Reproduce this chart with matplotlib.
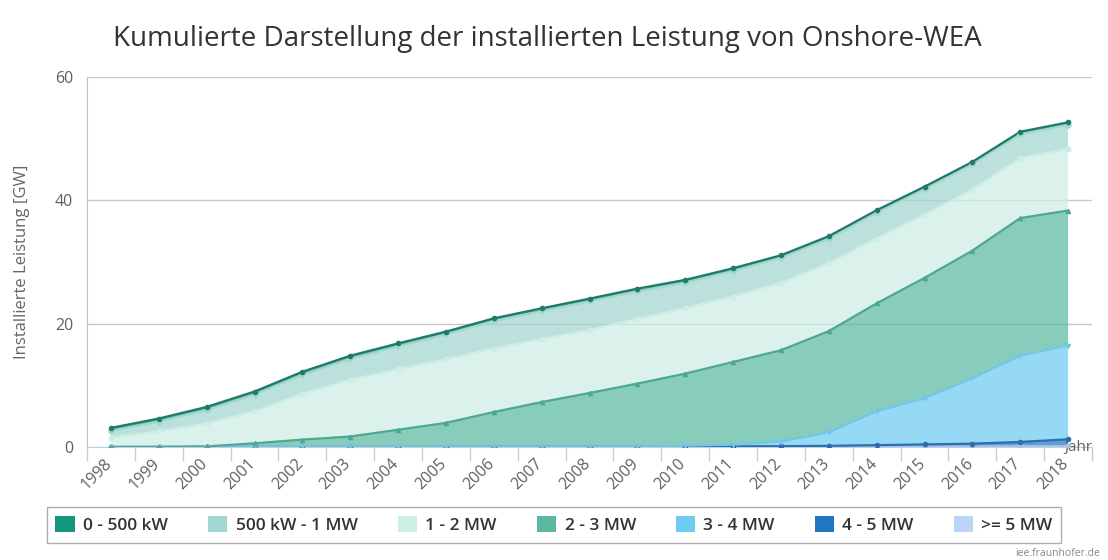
"""
Kumulierte installierte Leistung von Onshore-WEA nach Leistungsklasse
"""

import numpy as np
import matplotlib.pyplot as plt
from matplotlib.patches import Patch

plt.rcParams['font.family'] = ['Open Sans', 'DejaVu Sans']

years = [str(y) for y in range(1998, 2019)]

# installierte Leistung je Klasse [GW]
kw0_500 = [0.5, 0.5, 0.5, 0.5, 0.5, 0.5, 0.5, 0.45, 0.45, 0.45, 0.45, 0.45, 0.45, 0.45,
           0.4, 0.4, 0.4, 0.4, 0.4, 0.4, 0.4]
kw500_1mw = [1.1, 1.6, 2.2, 2.7, 3.1, 3.4, 3.7, 4.05, 4.45, 4.55, 4.65, 4.45, 4.15, 4.15,
             4.1, 4.0, 4.2, 4.2, 4.1, 3.9, 3.9]
mw1_2 = [1.5, 2.5, 3.7, 5.2, 7.4, 9.2, 9.8, 10.3, 10.3, 10.2, 10.2, 10.5, 10.6, 10.6,
         10.9, 11.0, 10.5, 10.2, 9.9, 9.7, 10.0]
mw2_3 = [0.0, 0.02, 0.1, 0.6, 1.2, 1.7, 2.8, 3.9, 5.65, 7.25, 8.7, 10.2, 11.7, 13.4,
         14.8, 16.4, 17.5, 19.5, 20.7, 22.3, 21.9]
mw3_4 = [0.0, 0.0, 0.0, 0.0, 0.0, 0.0, 0.0, 0.0, 0.0, 0.01, 0.02, 0.03, 0.13, 0.29,
         0.76, 2.2, 5.5, 7.5, 10.6, 14.0, 15.2]
mw4_5 = [0.0, 0.0, 0.0, 0.0, 0.0, 0.0, 0.0, 0.01, 0.02, 0.03, 0.04, 0.05, 0.06, 0.08,
         0.1, 0.15, 0.25, 0.35, 0.45, 0.7, 1.1]
mw5_plus = [0.0, 0.0, 0.0, 0.0, 0.0, 0.0, 0.0, 0.0, 0.0, 0.0, 0.0, 0.0, 0.01, 0.02,
            0.03, 0.04, 0.05, 0.07, 0.09, 0.12, 0.15]

labels = ['0 - 500 kW', '500 kW - 1 MW', '1 - 2 MW', '2 - 3 MW',
          '3 - 4 MW', '4 - 5 MW', '>= 5 MW']
colors = ['#13977c', '#a3d6cf', '#cdeee5', '#5ab9a2', '#6ecbf0', '#2277c4', '#bcd4f5']
line_colors = ['#1f7a68', '#a3d6cf', '#cdeee5', '#4fa793', '#72c6e8', '#2a6fae', '#a9c3e6']
markers = ['o', 'D', 's', '^', 'v', 'o', 's']

series = [kw0_500, kw500_1mw, mw1_2, mw2_3, mw3_4, mw4_5, mw5_plus]

fig = plt.figure(figsize=(11.08, 5.6), dpi=100)
ax = fig.add_axes([87 / 1108, 113 / 560, (1092 - 87) / 1108, 370 / 560])

x = np.arange(len(years))

# stapeln von unten (>= 5 MW) nach oben (0 - 500 kW)
stack = np.array(series[::-1])
tops = np.cumsum(stack, axis=0)
ax.stackplot(x, stack, colors=colors[::-1], alpha=0.72, linewidth=0)

for i, top in enumerate(tops):
    k = len(series) - 1 - i
    ax.plot(x, top, color=line_colors[k], linewidth=1.6, zorder=3)
    ax.plot(x, top, linestyle='none', marker=markers[k], markersize=3,
            markerfacecolor=line_colors[k], markeredgecolor=line_colors[k], zorder=4)

ax.set_xlim(-0.5, len(years) - 0.5)
ax.set_ylim(0, 60)
ax.set_yticks([0, 20, 40, 60])
ax.grid(axis='y', color='#c8c8c8', linewidth=1)
ax.set_axisbelow(True)

for side in ['top', 'right']:
    ax.spines[side].set_visible(False)
ax.spines['left'].set_color('#c0c0c0')
ax.spines['bottom'].set_color('#c0d0e0')

ax.set_xticks(x - 0.15)
ax.set_xticklabels(years, rotation=45, ha='right', va='top', rotation_mode='anchor',
                   fontsize=11.5, color='#606060')
ax.tick_params(axis='x', length=0, pad=6)
ax.set_xticks(np.arange(-0.5, len(years), 1), minor=True)
ax.tick_params(axis='x', which='minor', length=10, color='#c0d0e0', width=1)
ax.tick_params(axis='y', length=0, pad=10, labelsize=11.5, labelcolor='#606060')

ax.set_ylabel('Installierte Leistung [GW]', fontsize=12, color='#666666', labelpad=18)
ax.text(1.0, 0.0, 'Jahr', transform=ax.transAxes, ha='right', va='center',
        fontsize=11, color='#606060')

fig.text(0.494, 1 - 39 / 560, 'Kumulierte Darstellung der installierten Leistung von Onshore-WEA',
         ha='center', va='center', fontsize=20, color='#333333')

handles = [Patch(facecolor=c, edgecolor='none') for c in colors]
leg = fig.legend(handles, labels, loc='center', bbox_to_anchor=(554 / 1108, 1 - 525 / 560),
                 ncol=7, frameon=True, fancybox=False, edgecolor='#999999',
                 prop={'weight': 'semibold', 'size': 12.5}, handlelength=1.1,
                 handleheight=1.0, handletextpad=0.5, columnspacing=2.3,
                 borderpad=0.5)
for t in leg.get_texts():
    t.set_color('#333333')

fig.text(1100 / 1108, 1 - 553 / 560, 'iee.fraunhofer.de', ha='right', va='center',
         fontsize=7.5, color='#888888')

plt.savefig('out.png', dpi=100)
